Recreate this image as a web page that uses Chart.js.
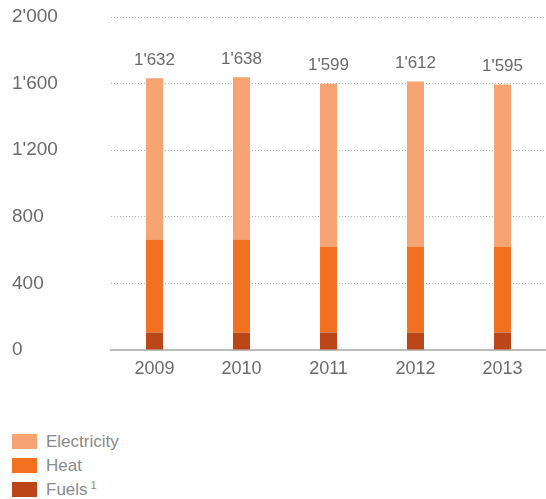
<!DOCTYPE html>
<html>
<head>
<meta charset="utf-8">
<script src="https://cdn.jsdelivr.net/npm/chart.js@4.4.1/dist/chart.umd.min.js"></script>
<style>
	html, body { margin: 0; padding: 0; background: #fff; }
	#wrap { position: relative; width: 546px; height: 400px; }
	#legend { position: absolute; left: 12px; top: 434px; font-family: "Liberation Sans", Arial, sans-serif; font-size: 17px; color: #8a8a8a; }
	#legend div { display: flex; align-items: center; height: 15px; margin-bottom: 9px; white-space: nowrap; }
	#legend span.box { display: inline-block; width: 25px; height: 15px; margin-right: 9px; }
	#legend sup { font-size: 11px; margin-left: 3px; position: relative; top: -5px; }
</style>
</head>
<body>
<div id="wrap"><canvas id="chart" width="546" height="400"></canvas></div>
<div id="legend"></div>
<script>
var years = ['2009', '2010', '2011', '2012', '2013'];
var totals = [1632, 1638, 1599, 1612, 1595];
var fuels = [105, 105, 105, 105, 105];
var heat = [559, 559, 517, 517, 517];
var electricity = [968, 974, 977, 990, 973];
var yTicks = [0, 400, 800, 1200, 1600, 2000];

var colElec = '#f7a472';
var colHeat = '#f27121';
var colFuel = '#bd4619';
var textCol = '#6b6b6b';
var fontFam = '"Liberation Sans", Arial, sans-serif';

function fmt(v) {
	var s = String(v);
	if (s.length > 3) s = s.slice(0, s.length - 3) + "'" + s.slice(s.length - 3);
	return s;
}

// totals above the bars
var totalLabels = {
	id: 'totalLabels',
	afterDatasetsDraw: function (chart) {
		var ctx = chart.ctx;
		var meta = chart.getDatasetMeta(2);
		ctx.save();
		ctx.font = '17px ' + fontFam;
		ctx.fillStyle = textCol;
		ctx.textAlign = 'center';
		ctx.textBaseline = 'middle';
		meta.data.forEach(function (bar, i) {
			ctx.fillText(fmt(totals[i]), bar.x, bar.y - 18);
		});
		ctx.restore();
	}
};

var chart = new Chart(document.getElementById('chart'), {
	type: 'bar',
	data: {
		labels: years,
		datasets: [
			{label: 'Fuels', data: fuels, backgroundColor: colFuel},
			{label: 'Heat', data: heat, backgroundColor: colHeat},
			{label: 'Electricity', data: electricity, backgroundColor: colElec}
		]
	},
	options: {
		responsive: false,
		animation: false,
		layout: {padding: {top: 0, right: 0, left: 12, bottom: 0}},
		datasets: {bar: {barPercentage: 1, categoryPercentage: 0.195}},
		plugins: {legend: {display: false}, tooltip: {enabled: false}},
		scales: {
			x: {
				stacked: true,
				grid: {display: false},
				border: {display: true, color: '#bdbdbd', width: 2},
				ticks: {color: textCol, font: {family: fontFam, size: 18}, padding: 0},
				afterFit: function (s) { s.height = 50; }
			},
			y: {
				stacked: true,
				min: 0,
				max: 2000,
				afterBuildTicks: function (s) { s.ticks = yTicks.map(function (v) { return {value: v}; }); },
				grid: {
					color: function (c) { return c.tick && c.tick.value === 0 ? 'rgba(0,0,0,0)' : '#b5b5b5'; },
					lineWidth: 1,
					drawTicks: false
				},
				border: {display: false, dash: [1, 2]},
				ticks: {
					color: textCol,
					font: {family: fontFam, size: 19},
					crossAlign: 'far',
					padding: 12,
					callback: function (v) { return fmt(v); }
				},
				afterFit: function (s) { s.width = 99; s.paddingTop = 17; s.paddingBottom = 0; }
			}
		}
	},
	plugins: [totalLabels]
});

// legend below chart, same order as reference
var items = [
	{name: 'Electricity', color: colElec, sup: ''},
	{name: 'Heat', color: colHeat, sup: ''},
	{name: 'Fuels', color: colFuel, sup: '1'}
];
var lg = document.getElementById('legend');
items.forEach(function (it) {
	var d = document.createElement('div');
	d.innerHTML = '<span class="box" style="background:' + it.color + '"></span>' + it.name + (it.sup ? '<sup>' + it.sup + '</sup>' : '');
	lg.appendChild(d);
});
</script>
</body>
</html>
